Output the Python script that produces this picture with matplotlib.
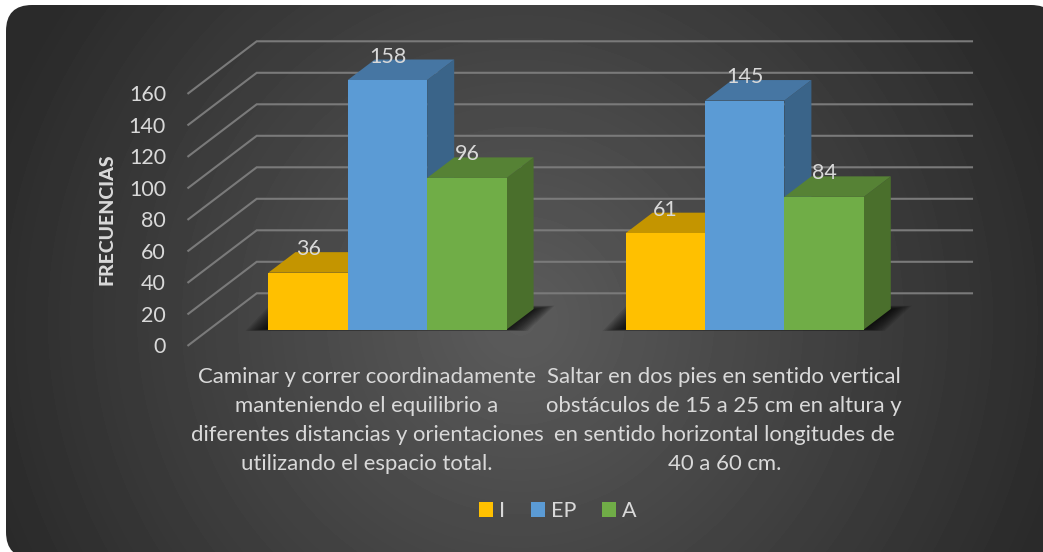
import numpy as np
import matplotlib
matplotlib.use("Agg")
import matplotlib.pyplot as plt
from matplotlib.patches import Polygon, FancyBboxPatch

categories = [
    "Caminar y correr coordinadamente\nmanteniendo el equilibrio a\ndiferentes distancias y orientaciones\nutilizando el espacio total.",
    "Saltar en dos pies en sentido vertical\nobstáculos de 15 a 25 cm en altura y\nen sentido horizontal longitudes de\n40 a 60 cm.",
]
series_names = ["I", "EP", "A"]
val_I = [36, 61]
val_EP = [158, 145]
val_A = [96, 84]
ticks = [0, 20, 40, 60, 80, 100, 120, 140, 160]
front = ["#FFC000", "#5B9BD5", "#70AD47"]
top = ["#C49500", "#4676A3", "#568235"]
side = ["#A67D00", "#3A6489", "#4A6F2C"]

W, H = 1043, 552
TXT = "#D9D9D9"
FONT = "Lato"
plt.rcParams["font.family"] = [FONT, "DejaVu Sans"]

fig = plt.figure(figsize=(W / 100, H / 100), dpi=100, facecolor="white")

# background panel
bg = fig.add_axes([0, 0, 1, 1], zorder=0)
bg.set_xlim(0, W)
bg.set_ylim(H, 0)
bg.axis("off")
yy, xx = np.mgrid[0:H, 0:W]
r = np.sqrt(((xx - 520) / 560) ** 2 + ((yy - 320) / 560) ** 2)
g = np.clip(r, 0, 1)
shade = 0x5C + (0x2A - 0x5C) * g
im = bg.imshow(shade, cmap="gray", vmin=0, vmax=255, extent=(0, W, H, 0),
               interpolation="bilinear", aspect="auto")
panel = FancyBboxPatch((32, 31), 999, 501,
                       boxstyle="round,pad=26,rounding_size=26", fc="none", ec="none",
                       transform=bg.transData)
bg.add_patch(panel)
im.set_clip_path(panel)

# scale: one category = 357.2 px, one value unit = 1.579 px
PX_X, PX_Y = 357.2, 1.579
X0, Y0 = 387.5, 329.5
ax = fig.add_axes([0, 0, 1, 1], zorder=1)
ax.set_xlim(-X0 / PX_X, (W - X0) / PX_X)
ax.set_ylim((Y0 - H) / PX_Y, Y0 / PX_Y)
ax.axis("off")
ax.patch.set_alpha(0)

bw = 79.4 / PX_X
dx = 27 / PX_X
dy = 20.5 / PX_Y

# walls
wall_x0 = (256.7 - X0) / PX_X
wall_x1 = (972 - X0) / PX_X
wall_y0 = (Y0 - 293.3) / PX_Y
left_dx = 68.4 / PX_X
left_dy = 52 / PX_Y
GRID = "#7A7A7A"
for t in ticks:
    yb = wall_y0 + t * 0.9975
    ax.plot([wall_x0 - left_dx, wall_x0, wall_x1], [yb - left_dy, yb, yb],
            color=GRID, lw=1.5, zorder=1, solid_joinstyle="miter")
    ax.text((166 - X0) / PX_X, yb - left_dy - 1.2, str(t), ha="right", va="center",
            color=TXT, fontsize=15.5)

x_pos = np.arange(len(categories))
all_vals = [val_I, val_EP, val_A]

# soft floor shadows
for c in x_pos:
    xl = c - 1.5 * bw
    xr = c + 1.5 * bw
    for k in range(12):
        gx = (11 - k) * 1.9 / PX_X
        gy = (11 - k) * 0.35 / PX_Y
        ax.add_patch(Polygon([(xl - 2 / PX_X - gx, 0.5 / PX_Y - gy * 0.5), (xr + gx, 0.5 / PX_Y - gy * 0.5),
                              (xr + 27 / PX_X + gx, 20 / PX_Y + gy), (xl + 22 / PX_X - gx, 20 / PX_Y + gy)],
                             fc="black", ec="none", alpha=0.10, zorder=2))

# bars
handles = []
for i, (name, vals) in enumerate(zip(series_names, all_vals)):
    xs = x_pos + (i - 1) * bw
    z = 3 + i
    for x, v in zip(xs, vals):
        r_ = x + bw / 2
        l_ = x - bw / 2
        ax.add_patch(Polygon([(r_, 0), (r_ + dx, dy), (r_ + dx, v + dy), (r_, v)],
                             fc=side[i], ec="none", zorder=z))
        ax.add_patch(Polygon([(l_, v), (r_, v), (r_ + dx, v + dy), (l_ + dx, v + dy)],
                             fc=top[i], ec="none", zorder=z))
    b = ax.bar(xs, vals, width=bw, color=front[i], label=name, zorder=z + 0.5)
    handles.append(b)

# data labels
for i, vals in enumerate(all_vals):
    xs = x_pos + (i - 1) * bw
    for x, v in zip(xs, vals):
        ax.text(x, v + 23.5 / PX_Y, str(v), ha="center", va="center", color=TXT,
                fontsize=15.5, zorder=10)

# category labels
for c, label in zip(x_pos, categories):
    ax.text(c - 20.5 / PX_X, (Y0 - 420.5) / PX_Y, label, ha="center", va="center", color=TXT,
            fontsize=15.9, linespacing=1.57, zorder=10)

# axis title
ax.text((107 - X0) / PX_X, (Y0 - 219) / PX_Y, "FRECUENCIAS", rotation=90, ha="center",
        va="center", color=TXT, fontsize=14, fontweight=900, zorder=10)

# legend
leg = ax.legend(handles=handles, labels=series_names, ncol=3, frameon=False,
                loc="center", bbox_to_anchor=(558 / W, 1 - 511 / H),
                labelcolor=TXT, fontsize=15.5, handlelength=0.65, handleheight=0.65,
                handletextpad=0.28, columnspacing=1.2)

fig.savefig("out.png", dpi=100, facecolor="white")
